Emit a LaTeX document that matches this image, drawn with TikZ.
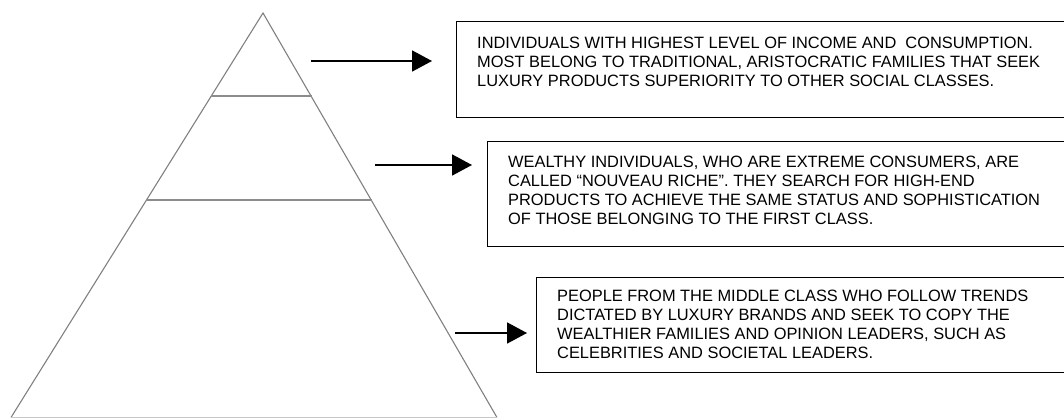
\documentclass[tikz,border=0pt]{standalone}
\usepackage{fontspec}
\setmainfont{Liberation Sans}
\usepackage{tikz}
\usetikzlibrary{
    arrows.meta,
    positioning
}
\definecolor{pyrC}{RGB}{128,128,128}
\definecolor{tierC}{RGB}{140,140,140}
\definecolor{baseC}{RGB}{200,200,200}
\tikzset{
  box/.style   = {draw, line width=1.4pt, anchor=north west, inner sep=0pt},
  desc/.style  = {inner sep=0pt, align=left, font=\fontsize{16.4}{19}\selectfont},
  pyr/.style   = {pyrC, line width=1.1pt},
  tier/.style  = {tierC, line width=1.4pt},
  arr/.style   = {-{Triangle[length=20pt,width=21pt]}, line width=1.7pt, black}
}

\begin{document}
\begin{tikzpicture}[x=1pt, y=-1pt]

  \useasboundingbox (0,0) rectangle (1064,419);
  \clip (0,0) rectangle (1064,419);

  %% ── Pyramid ───────────────────────────────────────────────────
  \coordinate (apex) at (263,13);
  \coordinate (bl)   at (11,417.5);
  \coordinate (br)   at (497,417.5);
  \draw[pyr] (bl) -- (apex) -- (br);
  \draw[baseC, line width=1.2pt] (bl) -- (br);
  \draw[tier] (211,96)  -- (312,96);    % top tier
  \draw[tier] (146,200) -- (372,200);   % middle tier

  %% ── Boxes ─────────────────────────────────────────────────────
  \node[box, minimum width=640pt, minimum height=96pt]  (b1) at (456,21)  {};
  \node[box, minimum width=620pt, minimum height=105pt] (b2) at (487,141) {};
  \node[box, minimum width=560pt, minimum height=95pt]  (b3) at (536,277) {};

  %% ── Texts ─────────────────────────────────────────────────────
  \node[desc, below right=16pt and 21pt of b1.north west, anchor=north west] (t1) {%
    INDIVIDUALS WITH HIGHEST LEVEL OF INCOME AND\ \ CONSUMPTION.\\
    MOST BELONG TO TRADITIONAL, ARISTOCRATIC FAMILIES THAT SEEK\\
    LUXURY PRODUCTS SUPERIORITY TO OTHER SOCIAL CLASSES.};
  \node[desc, below right=15pt and 21pt of b2.north west, anchor=north west] (t2) {%
    WEALTHY INDIVIDUALS, WHO ARE EXTREME CONSUMERS, ARE\\
    CALLED “NOUVEAU RICHE”. THEY SEARCH FOR HIGH-END\\
    PRODUCTS TO ACHIEVE THE SAME STATUS AND SOPHISTICATION\\
    OF THOSE BELONGING TO THE FIRST CLASS.};
  \node[desc, below right=13pt and 21pt of b3.north west, anchor=north west] (t3) {%
    PEOPLE FROM THE MIDDLE CLASS WHO FOLLOW TRENDS\\
    DICTATED BY LUXURY BRANDS AND SEEK TO COPY THE\\
    WEALTHIER FAMILIES AND OPINION LEADERS, SUCH AS\\
    CELEBRITIES AND SOCIETAL LEADERS.};

  %% ── Arrows ────────────────────────────────────────────────────
  \coordinate (s1) at (311,61);
  \coordinate (s2) at (375,165);
  \coordinate (s3) at (455,333);
  \draw[arr, shorten >=24pt] (s1) -- (b1.west |- s1);
  \draw[arr, shorten >=15pt] (s2) -- (b2.west |- s2);
  \draw[arr, shorten >=9pt]  (s3) -- (b3.west |- s3);

\end{tikzpicture}
\end{document}
